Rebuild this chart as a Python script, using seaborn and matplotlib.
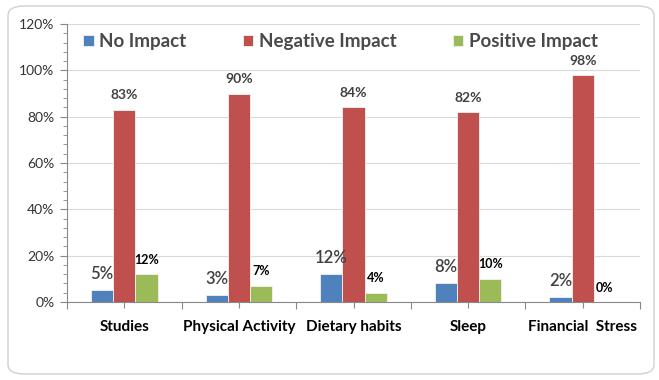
import matplotlib
matplotlib.use("Agg")
import matplotlib.pyplot as plt
import seaborn as sns
import pandas as pd
from matplotlib.patches import FancyBboxPatch
from matplotlib.ticker import MultipleLocator, FuncFormatter

categories = ["Studies", "Physical Activity", "Dietary habits", "Sleep", "Financial  Stress"]
no_impact = [5, 3, 12, 8, 2]
negative_impact = [83, 90, 84, 82, 98]
positive_impact = [12, 7, 4, 10, 0]
series_names = ["No Impact", "Negative Impact", "Positive Impact"]
colors = ["#4F81BD", "#C0504D", "#9BBB59"]

rows = []
for name, vals in zip(series_names, [no_impact, negative_impact, positive_impact]):
    for c, v in zip(categories, vals):
        rows.append({"Category": c, "Series": name, "Value": v})
df = pd.DataFrame(rows)

sns.set_theme(style="white")
plt.rcParams["font.family"] = ["Lato", "DejaVu Sans"]

fig = plt.figure(figsize=(6.59, 3.8), dpi=100)
frame = FancyBboxPatch((8 / 659, 6 / 380), 646 / 659, 368 / 380,
                       boxstyle="round,pad=0,rounding_size=0.025",
                       transform=fig.transFigure, facecolor="none",
                       edgecolor="#D0D0D0", linewidth=1.0, zorder=-5)
fig.patches.append(frame)

ax = fig.add_axes([67 / 659, 1 - 302 / 380, (640 - 67) / 659, (302 - 24) / 380])
ax.set_facecolor("none")

sns.barplot(data=df, x="Category", y="Value", hue="Series", palette=colors,
            width=0.58, ax=ax, saturation=1, legend=True, zorder=3,
            edgecolor="#F2F2F2", linewidth=0.6)

ax.set_ylim(0, 120)
ax.set_xlim(-0.5, 4.5)
ax.yaxis.set_major_locator(MultipleLocator(20))
ax.yaxis.set_minor_locator(MultipleLocator(4))
ax.yaxis.set_major_formatter(FuncFormatter(lambda v, p: f"{v:.0f}%"))
ax.grid(axis="y", which="major", color="#D9D9D9", linewidth=0.8, zorder=0)
ax.set_axisbelow(True)

for s in ["top", "right"]:
    ax.spines[s].set_visible(False)
for s in ["left", "bottom"]:
    ax.spines[s].set_color("#888888")
    ax.spines[s].set_linewidth(0.8)

ax.tick_params(axis="y", which="major", left=True, length=5, width=0.8, color="#888888",
               labelsize=10, labelcolor="#333333", pad=4)
ax.tick_params(axis="y", which="minor", left=True, length=3, width=0.6, color="#888888")
ax.tick_params(axis="x", which="major", bottom=True, length=4, width=0.8, color="#888888",
               labelsize=11, labelcolor="black", pad=9)
for lbl in ax.get_xticklabels():
    lbl.set_fontweight("bold")
ax.set_xticks([i + 0.5 for i in range(-1, 5)], minor=True)
ax.tick_params(axis="x", which="minor", bottom=True, length=5, width=0.8, color="#888888")
ax.set_xlabel("")
ax.set_ylabel("")

conts = ax.containers
ax.bar_label(conts[0], labels=[f"{v}%" for v in no_impact], padding=6,
             fontsize=12, color="#404040", fontweight="semibold")
ax.bar_label(conts[1], labels=[f"{v}%" for v in negative_impact], padding=6,
             fontsize=10, fontweight="bold", color="#404040")
ax.bar_label(conts[2], labels=[f"{v}%" for v in positive_impact], padding=6,
             fontsize=9, fontweight="bold", color="black")

leg = ax.legend(loc="upper left", bbox_to_anchor=(0.012, 1.0), ncol=3, frameon=False,
                fontsize=13.5, handlelength=0.55, handleheight=0.55, handletextpad=0.3,
                columnspacing=3.0, borderaxespad=0.1)
for t in leg.get_texts():
    t.set_color("#4A4A4A")
    t.set_fontweight("bold")

fig.savefig("out.png", dpi=100)
